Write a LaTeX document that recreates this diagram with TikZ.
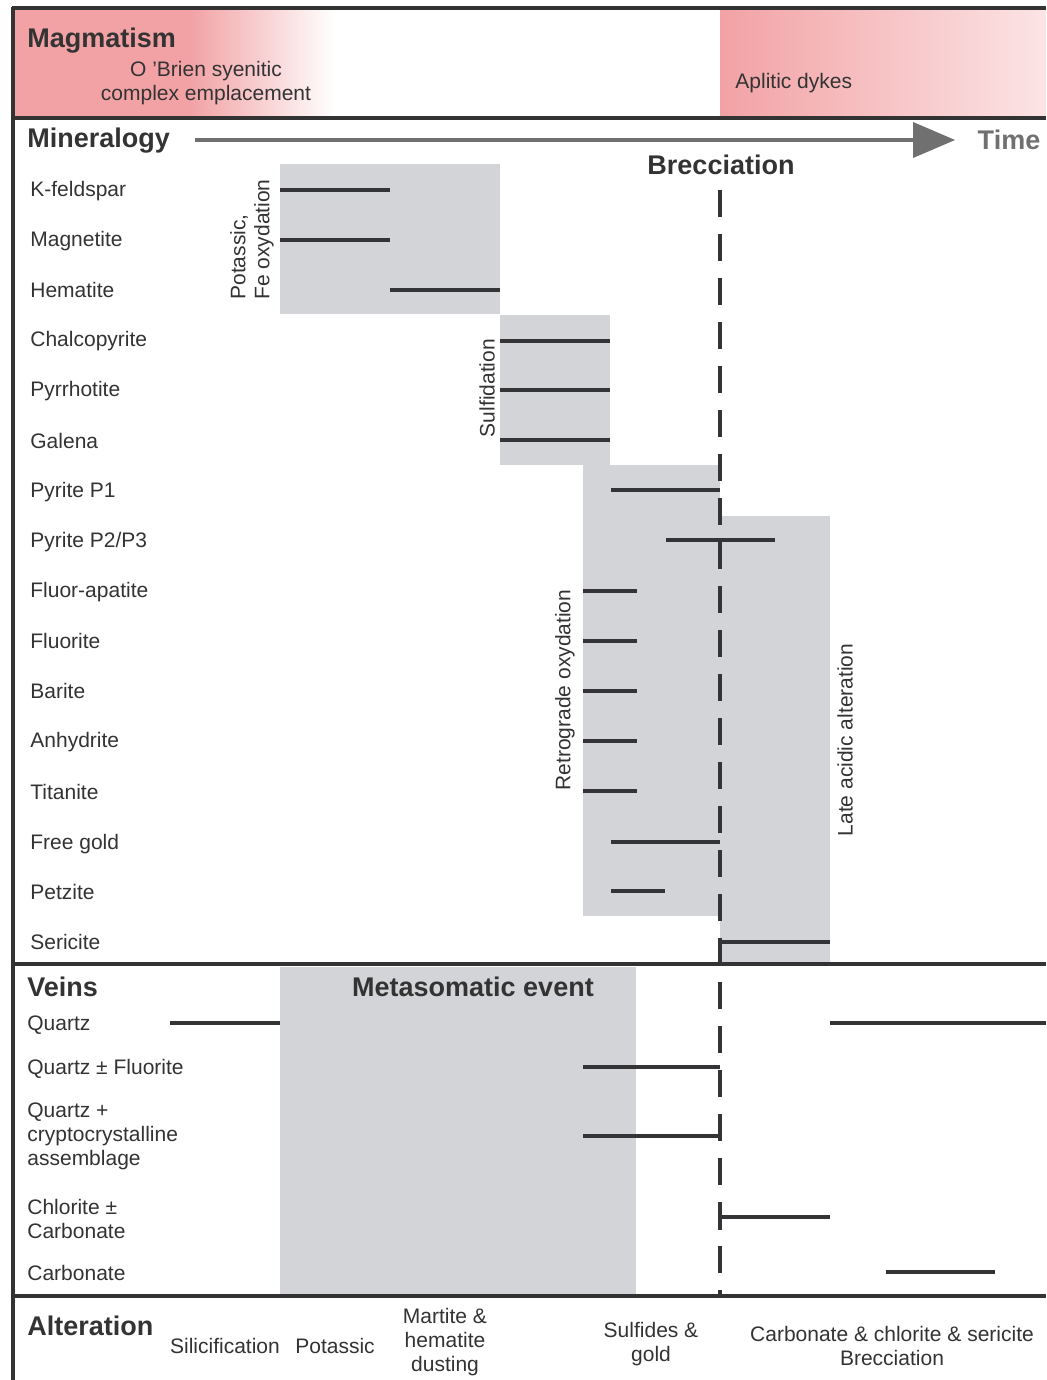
\documentclass[tikz,border=0pt]{standalone}
\usepackage{fontspec}
\setmainfont{Liberation Sans}
\definecolor{txt}{RGB}{51,51,51}
\definecolor{barc}{RGB}{52,52,54}
\definecolor{boxc}{RGB}{211,212,215}
\definecolor{pinkc}{RGB}{242,162,165}
\definecolor{pinkl}{RGB}{252,228,229}
\definecolor{arrc}{RGB}{112,112,112}
\begin{document}
\begin{tikzpicture}[x=0.5pt,y=-0.5pt,
  lbl/.style={anchor=west,font=\fontsize{10.5}{12}\selectfont,text=txt,inner sep=0pt,text height=7.5pt,text depth=0pt},
  mlbl/.style={font=\fontsize{10.5}{12}\selectfont,text=txt,inner sep=0pt},
  ttl/.style={anchor=west,font=\fontsize{13.5}{16}\selectfont\bfseries,text=txt,inner sep=0pt,text height=9.7pt,text depth=0pt},
  rlbl/.style={rotate=90,font=\fontsize{10.5}{12}\selectfont,text=txt,inner sep=0pt},
  bar/.style={draw=barc,line width=2.4pt},
  frame/.style={draw=txt,line width=2.2pt},
  stage/.style={fill=boxc,draw=none}]
\useasboundingbox (0,0) rectangle (1046,1380);
\fill[white] (0,0) rectangle (1046,1380);
% magmatism band
\fill[pinkc] (12,9) rectangle (190,117);
\shade[left color=pinkc,right color=white] (190,9) rectangle (335,117);
\shade[left color=pinkc,right color=pinkl] (720,9) rectangle (1046,117);
% stage boxes
\fill[stage] (280,164) rectangle (500,314);
\fill[stage] (500,315) rectangle (610,465);
\fill[stage] (583,465) rectangle (720,916);
\fill[stage] (720,516) rectangle (830,964);
\fill[stage] (280,967) rectangle (636,1294);
% frame
\draw[frame] (12,8) -- (1046,8);
\draw[frame] (13,7) -- (13,1380);
\draw[frame] (12,118) -- (1046,118);
\draw[frame] (12,964) -- (1046,964);
\draw[frame] (12,1296) -- (1046,1296);
% titles
\node[ttl] (magm) at (27,38) {Magmatism};
\node[mlbl,align=center] (obrien) at (206,83) {O 'Brien syenitic\\complex emplacement};
\node[lbl] (aplitic) at (735,81) {Aplitic dykes};
\node[ttl] (miner) at (27,138) {Mineralogy};
\node[ttl,anchor=center,text=arrc] (time) at (1009,140) {Time};
\node[ttl,anchor=center] (brec) at (721,165) {Brecciation};
\node[ttl] (veins) at (27,987) {Veins};
\node[ttl,anchor=center] (meta) at (473,987) {Metasomatic event};
\node[ttl] (alter) at (27,1326) {Alteration};
% time arrow
\coordinate (ta) at (195,140);
\coordinate (tb) at (916,140);
\draw[draw=arrc,line width=2pt] (ta) -- (tb);
\fill[arrc] (913,122) -- (955,140) -- (913,158) -- cycle;
% mineral labels
\foreach \yy/\tt/\nm in {189/K-feldspar/kf,239/Magnetite/mag,290/Hematite/hem,339/Chalcopyrite/cpy,389/Pyrrhotite/po,441/Galena/gn,490/Pyrite P1/py1,540/Pyrite P2\slash P3/py2,590/Fluor-apatite/ap,641/Fluorite/fl,691/Barite/ba,740/Anhydrite/anh,792/Titanite/ttn,842/Free gold/au,892/Petzite/ptz,942/Sericite/ser}
  \node[lbl] (\nm) at (30,\yy) {\tt};
% rotated stage labels
\node[rlbl,anchor=west,align=left] (potfe) at (252,300) {Potassic,\\Fe oxydation};
\node[rlbl] (sulf) at (487,388) {Sulfidation};
\node[rlbl] (retro) at (565,690) {Retrograde oxydation};
\node[rlbl] (late) at (845,740) {Late acidic alteration};
% mineral bars
\draw[bar] (280,190) -- (390,190);
\draw[bar] (280,240) -- (390,240);
\draw[bar] (390,290) -- (500,290);
\draw[bar] (500,341) -- (610,341);
\draw[bar] (500,390) -- (610,390);
\draw[bar] (500,440) -- (610,440);
\draw[bar] (611,490) -- (720,490);
\draw[bar] (666,540) -- (775,540);
\foreach \yy in {591,641,691,741,791}
  \draw[bar] (583,\yy) -- (637,\yy);
\draw[bar] (611,842) -- (720,842);
\draw[bar] (611,891) -- (665,891);
\draw[bar] (720,965) -- (720,942) -- (830,942);
% brecciation dashed line
\coordinate (bt) at (720,190);
\coordinate (bb) at (720,1296);
\draw[draw=barc,line width=2.3pt,dash pattern=on 13.5pt off 8.5pt] (bt) -- (bb);
% vein labels
\node[lbl] (vq) at (27,1023) {Quartz};
\node[lbl] (vqf) at (27,1067) {Quartz \char"00B1{} Fluorite};
\node[mlbl,anchor=west,align=left] (vqc) at (27,1136) {Quartz +\\cryptocrystalline\\assemblage};
\node[mlbl,anchor=west,align=left] (vcc) at (27,1219) {Chlorite \char"00B1\\Carbonate};
\node[lbl] (vc) at (27,1273) {Carbonate};
% vein bars
\draw[bar] (170,1023) -- (280,1023);
\draw[bar] (830,1023) -- (1046,1023);
\draw[bar] (583,1067) -- (720,1067);
\draw[bar] (583,1136) -- (720,1136);
\draw[bar] (720,1204) -- (720,1230);
\draw[bar] (720,1217) -- (830,1217);
\draw[bar] (886,1272) -- (995,1272);
% alteration labels
\node[mlbl] (asil) at (225,1346) {Silicification};
\node[mlbl] (apot) at (335,1346) {Potassic};
\node[mlbl,align=center] (amar) at (445,1342) {Martite \&\\hematite\\dusting};
\node[mlbl,align=center] (asul) at (651,1344) {Sulfides \&\\gold};
\node[mlbl,align=center] (acar) at (892,1346) {Carbonate \& chlorite \& sericite\\Brecciation};
\end{tikzpicture}
\end{document}
